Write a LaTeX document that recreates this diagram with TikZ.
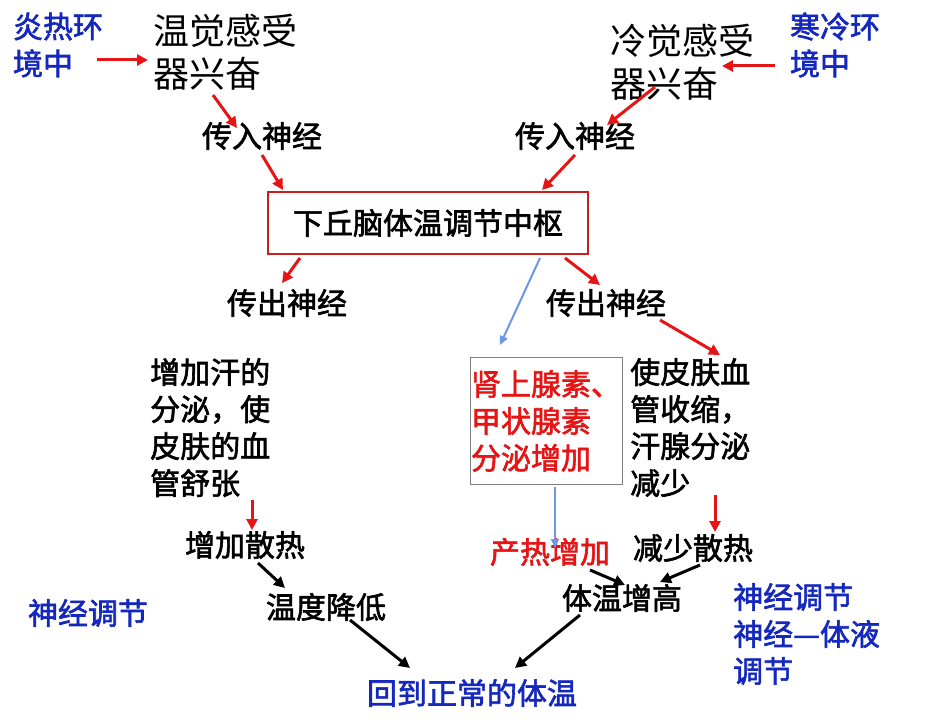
\documentclass[tikz,border=0pt]{standalone}
\usepackage{fontspec}
\setmainfont{Noto Sans CJK SC}[AutoFakeBold=2]
\usetikzlibrary{arrows.meta}
\definecolor{hotred}{RGB}{230,20,20}
\definecolor{boxred}{RGB}{200,30,30}
\definecolor{navy}{RGB}{20,40,190}
\definecolor{lblue}{RGB}{110,150,230}
\begin{document}
\begin{tikzpicture}[
  x=1pt, y=-1pt,
  txt/.style = {font=\fontsize{30}{37}\selectfont\bfseries, align=left, inner sep=0pt},
  big/.style = {font=\fontsize{36}{43}\selectfont, align=left, inner sep=0pt},
  bl/.style = {txt, text=navy},
  redar/.style = {draw=hotred, line width=3pt, -{Triangle[length=11pt,width=11pt]}},
  blackar/.style = {draw=black, line width=3pt, -{Triangle[length=11pt,width=11pt]}},
  bluear/.style = {draw=lblue, line width=2pt, -{Triangle[length=9pt,width=8pt]}}
  ]
  \useasboundingbox (0,0) rectangle (931,719);

  \node[bl] (hot) at (58,45) {炎热环\\境中};
  \node[bl] (cold) at (835,45) {寒冷环\\境中};
  \node[big] (warmrec) at (225,52) {温觉感受\\器兴奋};
  \node[big] (coldrec) at (682,62) {冷觉感受\\器兴奋};
  \node[txt] (inL) at (262,136) {传入神经};
  \node[txt] (inR) at (575,136) {传入神经};
  \node[txt, draw=boxred, line width=2pt, minimum width=320pt, minimum height=62pt] (center) at (428,223) {下丘脑体温调节中枢};
  \node[txt] (outL) at (287,303) {传出神经};
  \node[txt] (outR) at (606,303) {传出神经};
  \node[txt, anchor=north west] (sweat) at (150,358) {增加汗的\\分泌，使\\皮肤的血\\管舒张};
  \node[txt, anchor=north west] (shrink) at (630,358) {使皮肤血\\管收缩，\\汗腺分泌\\减少};
  \node[txt, text=hotred, draw=gray, line width=0.8pt, minimum width=152pt, minimum height=127pt] (hormone) at (546,421) {肾上腺素、\\甲状腺素\\分泌增加};
  \node[txt] (lossup) at (245,545) {增加散热};
  \node[txt] (tempdown) at (326,607) {温度降低};
  \node[txt, text=hotred] (heatup) at (550,552) {产热增加};
  \node[txt] (lossdown) at (693,548) {减少散热};
  \node[txt] (tempup) at (622,598) {体温增高};
  \node[bl] (nerve) at (88,613) {神经调节};
  \node[bl, anchor=north west] (both) at (733,583) {神经调节\\神经—体液\\调节};
  \node[bl] (normal) at (472,693) {回到正常的体温};

  \coordinate (a1) at (97,60);   \coordinate (a2) at (148,60);
  \coordinate (b1) at (775,66);  \coordinate (b2) at (722,66);
  \coordinate (c1) at (213,95);  \coordinate (c2) at (237,128);
  \coordinate (d1) at (655,87);  \coordinate (d2) at (607,125);
  \coordinate (e1) at (262,155); \coordinate (e2) at (283,190);
  \coordinate (f1) at (575,155); \coordinate (f2) at (542,190);
  \coordinate (g1) at (300,258); \coordinate (g2) at (282,283);
  \coordinate (h1) at (565,258); \coordinate (h2) at (600,285);
  \coordinate (i1) at (540,258); \coordinate (i2) at (500,345);
  \coordinate (j1) at (660,320); \coordinate (j2) at (720,355);
  \coordinate (k1) at (252,500); \coordinate (k2) at (252,530);
  \coordinate (l1) at (258,563); \coordinate (l2) at (285,588);
  \coordinate (m1) at (555,487); \coordinate (m2) at (555,548);
  \coordinate (n1) at (715,495); \coordinate (n2) at (715,532);
  \coordinate (o1) at (590,570); \coordinate (o2) at (625,585);
  \coordinate (p1) at (700,565); \coordinate (p2) at (660,582);
  \coordinate (q1) at (350,620); \coordinate (q2) at (410,668);
  \coordinate (r1) at (580,615); \coordinate (r2) at (515,668);

  \draw[redar] (a1) -- (a2);
  \draw[redar] (b1) -- (b2);
  \draw[redar] (c1) -- (c2);
  \draw[redar] (d1) -- (d2);
  \draw[redar] (e1) -- (e2);
  \draw[redar] (f1) -- (f2);
  \draw[redar] (g1) -- (g2);
  \draw[redar] (h1) -- (h2);
  \draw[bluear] (i1) -- (i2);
  \draw[redar] (j1) -- (j2);
  \draw[redar] (k1) -- (k2);
  \draw[blackar] (l1) -- (l2);
  \draw[bluear] (m1) -- (m2);
  \draw[redar] (n1) -- (n2);
  \draw[blackar] (o1) -- (o2);
  \draw[blackar] (p1) -- (p2);
  \draw[blackar] (q1) -- (q2);
  \draw[blackar] (r1) -- (r2);
\end{tikzpicture}
\end{document}
